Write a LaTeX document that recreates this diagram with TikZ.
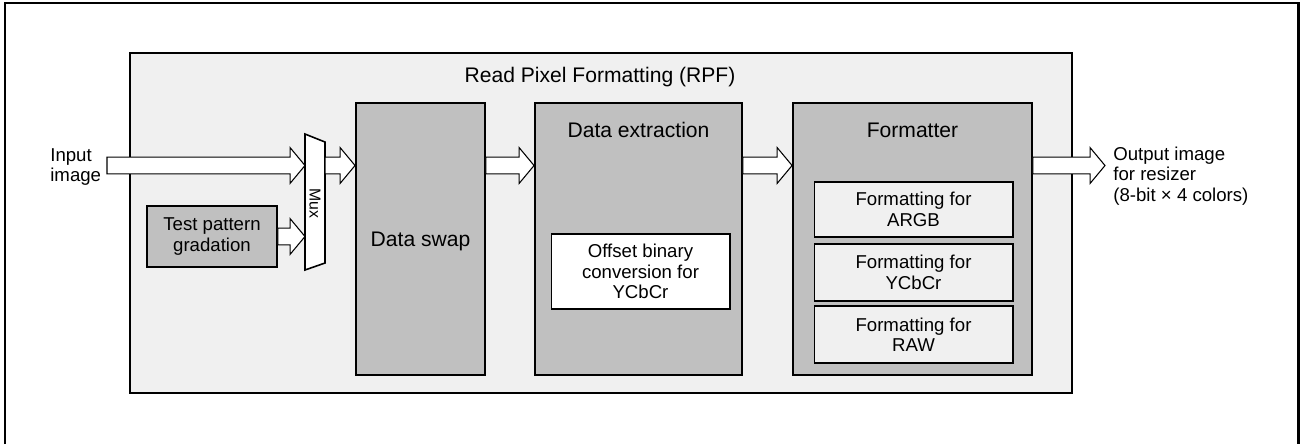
\documentclass[tikz,border=0pt]{standalone}
\usepackage{fontspec}
\setmainfont{Liberation Sans}
\usetikzlibrary{calc}

\definecolor{boxgray}{HTML}{C0C0C0}
\definecolor{rpfgray}{HTML}{F0F0F0}

% hollow block arrow: from #1 (start, gives the height) to #2 (tip)
\newcommand{\fatarrow}[2]{%
	\draw[fatarr] let \p1=(#1), \p2=(#2) in
		(\x1,\y1+4.8pt) -- (\x2-8.5pt,\y1+4.8pt) -- (\x2-8.5pt,\y1+10.2pt) -- (\x2,\y1)
		-- (\x2-8.5pt,\y1-10.2pt) -- (\x2-8.5pt,\y1-4.8pt) -- (\x1,\y1-4.8pt) -- cycle;}

\begin{document}
\begin{tikzpicture}[x=0.02cm, y=-0.02cm, line join=miter,
	font=\fontsize{10.6}{11.6}\selectfont,
	bigbox/.style={draw, line width=1.1pt, fill=boxgray, inner sep=0pt},
	subbox/.style={draw, line width=0.6pt, fill=rpfgray, minimum width=3.98cm, align=center, inner sep=0pt},
	fatarr/.style={draw, line width=0.6pt, fill=white},
	title/.style={font=\fontsize{12}{14}\selectfont, anchor=base}]
	\useasboundingbox (0,0) rectangle (1300,444);
	
	% 1. Khung ngoai va khoi RPF
	\draw[line width=1.7pt] (5,444) -- (5,3) -- (1298,3) -- (1298,444);
	\node[draw, line width=1.1pt, fill=rpfgray, minimum width=18.84cm, minimum height=6.8cm] (rpf) at (601,223) {};
	\node[title] (rpftitle) at (600,82) {Read Pixel Formatting (RPF)};
	
	% 2. Cac khoi xu ly
	\node[bigbox, minimum width=2.6cm, minimum height=1.22cm, line width=1pt, align=center] (test) at (212,236.5) {Test pattern\\gradation};
	\node[bigbox, minimum width=2.58cm, minimum height=5.44cm] (swap) at (420.5,239) {};
	\node[title] at (420.5,246) {Data swap};
	\node[bigbox, minimum width=4.14cm, minimum height=5.44cm] (extr) at (638.5,239) {};
	\node[title] at (638.5,137) {Data extraction};
	\node[draw, line width=0.6pt, fill=white, minimum width=3.58cm, minimum height=1.5cm, align=center, inner sep=0pt] (offs) at (640.5,271.5) {Offset binary\\conversion for\\YCbCr};
	\node[bigbox, minimum width=4.78cm, minimum height=5.44cm] (fmt) at (912.5,239) {};
	\node[title] at (912.5,137) {Formatter};
	\node[subbox, minimum height=1.1cm] (fa) at (913.5,209.5) {Formatting for\\ARGB};
	\node[subbox, minimum height=1.14cm] (fb) at (913.5,272.5) {Formatting for\\YCbCr};
	\node[subbox, minimum height=1.14cm] (fc) at (913.5,334.5) {Formatting for\\RAW};
	
	% 3. Mux
	\draw[line width=0.9pt, fill=white] (305,134) -- (325,142) -- (325,263) -- (305,270) -- cycle;
	\node[rotate=-90, font=\fontsize{9}{10}\selectfont] (mux) at (315,203) {Mux};
	\coordinate (mux-in1) at (305,165.5);
	\coordinate (mux-in2) at (305,238);
	\coordinate (mux-out) at (325,165.5);
	
	% 4. Nhan vao / ra
	\node[anchor=west, align=left, inner sep=0pt] (intxt) at (50,167) {Input\\image};
	\coordinate (inp) at (107,165.5);
	\coordinate (outp) at (1105,165.5);
	\node[anchor=north west, align=left, inner sep=0pt] (outtxt) at (1113,146.5) {Output image\\for resizer\\(8-bit × 4 colors)};
	
	% 5. Mui ten
	\fatarrow{inp}{mux-in1}
	\fatarrow{test.east}{mux-in2}
	\fatarrow{mux-out}{swap.west}
	\fatarrow{swap.east |- inp}{extr.west}
	\fatarrow{extr.east |- inp}{fmt.west}
	\fatarrow{fmt.east |- inp}{outp}
\end{tikzpicture}
\end{document}
